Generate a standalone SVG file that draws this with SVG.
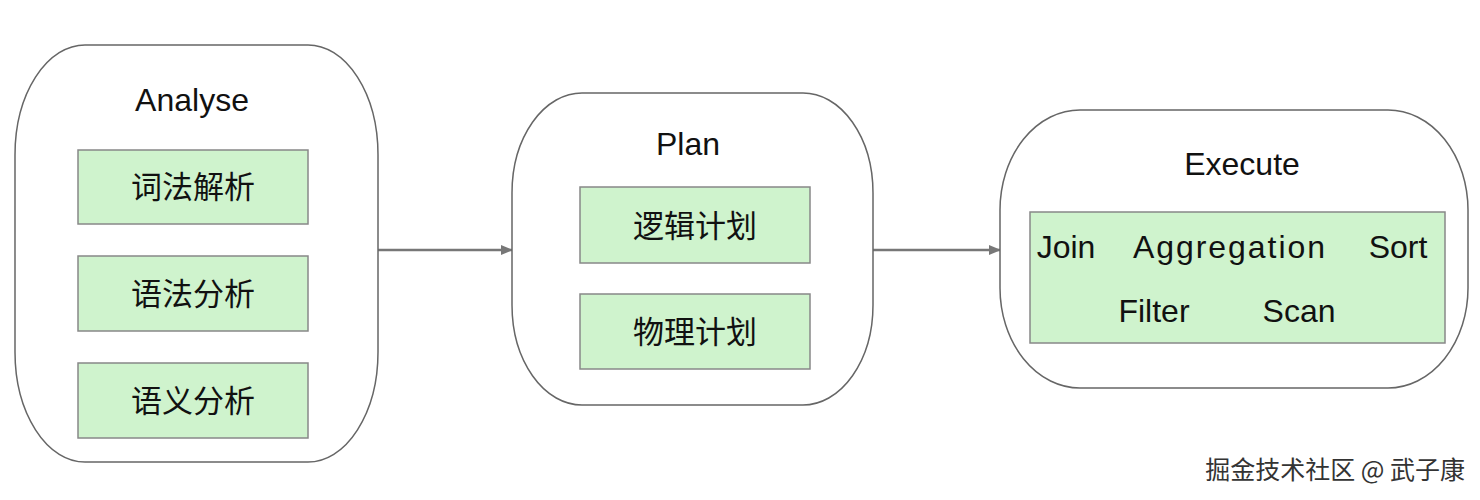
<svg xmlns="http://www.w3.org/2000/svg" width="1480" height="500" viewBox="0 0 1480 500">
<defs>
<marker id="ah" markerWidth="12" markerHeight="10" refX="11" refY="5" orient="auto" markerUnits="userSpaceOnUse"><path d="M0,0 L12,5 L0,10 Z" fill="#777"/></marker>
<style>
.stage{fill:#fff;stroke:#666;stroke-width:1.5}
.box{fill:#cff3cd;stroke:#888;stroke-width:1.5}
.t{font-family:"Liberation Sans","Noto Sans CJK SC",sans-serif;font-size:32px;fill:#111;text-anchor:middle}
.c{font-family:"Noto Sans CJK SC",sans-serif;font-size:31px;fill:#111;text-anchor:middle}
.conn{stroke:#777;stroke-width:2.5;fill:none}
</style>
</defs>
<rect width="1480" height="500" fill="#fff"/>
<g id="connectors">
<line class="conn" x1="378" y1="250" x2="512" y2="250" marker-end="url(#ah)"/>
<line class="conn" x1="873" y1="250" x2="1000" y2="250" marker-end="url(#ah)"/>
</g>
<g id="analyse">
<rect class="stage" x="15" y="45" width="363" height="417" rx="70" ry="110"/>
<text class="t" x="192" y="111">Analyse</text>
<rect class="box" x="78" y="150" width="230" height="74"/>
<text class="c" x="193" y="198">词法解析</text>
<rect class="box" x="78" y="256" width="230" height="75"/>
<text class="c" x="193" y="305">语法分析</text>
<rect class="box" x="78" y="363" width="230" height="75"/>
<text class="c" x="193" y="412">语义分析</text>
</g>
<g id="plan">
<rect class="stage" x="512" y="93" width="361" height="312" rx="70" ry="100"/>
<text class="t" x="688" y="155">Plan</text>
<rect class="box" x="580" y="187" width="230" height="76"/>
<text class="c" x="695" y="237">逻辑计划</text>
<rect class="box" x="580" y="294" width="230" height="75"/>
<text class="c" x="695" y="343">物理计划</text>
</g>
<g id="execute">
<rect class="stage" x="1000" y="110" width="468" height="278" rx="80" ry="100"/>
<text class="t" x="1242" y="175">Execute</text>
<rect class="box" x="1030" y="212" width="415" height="131"/>
<text class="t" x="1066" y="258">Join</text>
<text class="t" x="1229" y="258" textLength="192">Aggregation</text>
<text class="t" x="1398" y="258">Sort</text>
<text class="t" x="1154" y="322">Filter</text>
<text class="t" x="1299" y="322">Scan</text>
</g>
<text x="1465" y="479" font-family="Noto Sans CJK SC,sans-serif" font-size="25" fill="#333" text-anchor="end">掘金技术社区 @ 武子康</text>
</svg>
